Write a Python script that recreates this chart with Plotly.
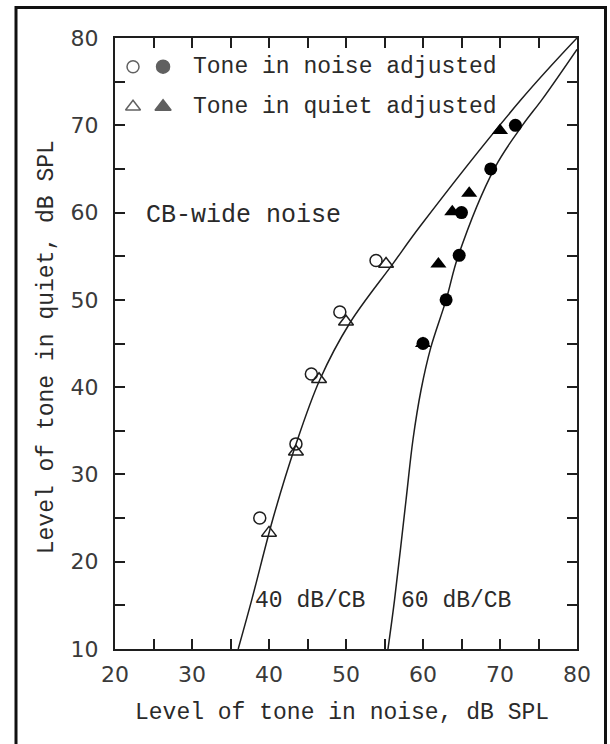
import plotly.graph_objects as go

# ---- data (dB SPL) ----
# 40 dB/CB masker, open symbols
noise_adj_40_x = [38.8, 43.5, 45.5, 49.2, 53.9]
noise_adj_40_y = [25.0, 33.5, 41.5, 48.6, 54.5]
quiet_adj_40_x = [40.0, 43.5, 46.5, 50.0, 55.2]
quiet_adj_40_y = [23.3, 32.6, 40.9, 47.5, 54.1]

# 60 dB/CB masker, filled symbols
noise_adj_60_x = [60.0, 63.0, 64.7, 65.0, 68.8, 72.0]
noise_adj_60_y = [45.0, 50.0, 55.1, 60.0, 65.0, 70.0]
quiet_adj_60_x = [60.0, 62.0, 63.8, 66.0, 70.0]
quiet_adj_60_y = [45.0, 54.1, 60.1, 62.2, 69.4]

# equal-loudness curves for the two masker levels
curve_40_x = [36.0, 37.75, 40.6, 43.4, 46.6, 50.5, 56.1, 59.6, 72.8, 80.0]
curve_40_y = [10.0, 15.6, 25.2, 33.2, 40.85, 47.35, 54.15, 58.4, 73.0, 80.0]
curve_60_x = [55.45, 56.3, 57.8, 58.7, 59.75, 61.0, 63.0, 64.6, 69.3, 73.0, 75.5, 80.0]
curve_60_y = [10.0, 15.6, 27.1, 34.0, 39.7, 44.5, 50.0, 55.1, 65.1, 70.1, 73.0, 78.7]

tick_vals = [20, 25, 30, 35, 40, 45, 50, 55, 60, 65, 70, 75, 80]
x_tick_text = ["20", "", "30", "", "40", "", "50", "", "60", "", "70", "", "80"]
y_tick_vals = [10, 15, 20, 25, 30, 35, 40, 45, 50, 55, 60, 65, 70, 75, 80]
y_tick_text = ["10", "", "20", "", "30", "", "40", "", "50", "", "60", "", "70", "", "80"]

legend_labels = ["Tone in noise adjusted", "Tone in quiet adjusted"]
curve_labels = ["40 dB/CB", "60 dB/CB"]
noise_label = "CB-wide noise"
x_title = "Level of tone in noise, dB SPL"
y_title = "Level of tone in quiet, dB SPL"

# ---- styling ----
INK = "#1e1e1e"
MONO = "Liberation Mono, DejaVu Sans Mono, monospace"
TICKFONT = dict(family="DejaVu Sans, sans-serif", size=22, color="#3a3a3a")
TEXTFONT = dict(family=MONO, size=23, color="#2a2a2a")
BIGFONT = dict(family=MONO, size=25, color="#2a2a2a")

W, H = 610, 744
ML, MR, MT, MB = 115, 33, 38, 95

fig = go.Figure()

line_style = dict(color=INK, width=1.5, shape="spline", smoothing=1.0)
fig.add_trace(go.Scatter(x=curve_40_x, y=curve_40_y, mode="lines", line=line_style,
                         hoverinfo="skip", showlegend=False))
fig.add_trace(go.Scatter(x=curve_60_x, y=curve_60_y, mode="lines", line=line_style,
                         hoverinfo="skip", showlegend=False))

open_circle = dict(symbol="circle-open", size=12, color=INK, line=dict(width=1.5, color=INK))
open_tri = dict(symbol="triangle-up-open", size=13, color=INK, line=dict(width=1.5, color=INK))
full_circle = dict(symbol="circle", size=13, color="black", line=dict(width=0))
full_tri = dict(symbol="triangle-up", size=14, color="black", line=dict(width=0))

fig.add_trace(go.Scatter(x=quiet_adj_40_x, y=quiet_adj_40_y, mode="markers", marker=open_tri,
                         name=legend_labels[1], showlegend=False))
fig.add_trace(go.Scatter(x=noise_adj_40_x, y=noise_adj_40_y, mode="markers", marker=open_circle,
                         name=legend_labels[0], showlegend=False))
fig.add_trace(go.Scatter(x=noise_adj_60_x, y=noise_adj_60_y, mode="markers", marker=full_circle,
                         name=legend_labels[0], showlegend=False))
fig.add_trace(go.Scatter(x=quiet_adj_60_x, y=quiet_adj_60_y, mode="markers", marker=full_tri,
                         name=legend_labels[1], showlegend=False))

# legend keys on an overlay axis spanning the plot area in 0..1 units
key_x_open, key_x_full = 0.039, 0.104
key_rows = [0.953, 0.8876]
fig.add_trace(go.Scatter(x=[key_x_open, key_x_full], y=[key_rows[0]] * 2, mode="markers",
                         marker=dict(symbol=["circle-open", "circle"], size=[12, 13], color=INK,
                                     line=dict(width=1.5, color=INK)),
                         xaxis="x2", yaxis="y2", hoverinfo="skip", showlegend=False))
fig.add_trace(go.Scatter(x=[key_x_open, key_x_full], y=[key_rows[1]] * 2, mode="markers",
                         marker=dict(symbol=["triangle-up-open", "triangle-up"], size=[13, 14], color=INK,
                                     line=dict(width=1.5, color=INK)),
                         xaxis="x2", yaxis="y2", hoverinfo="skip", showlegend=False))

annotations = []
for label, ry in zip(legend_labels, key_rows):
    annotations.append(dict(x=0.1636, y=ry, xref="paper", yref="paper", text=label,
                            showarrow=False, xanchor="left", yanchor="middle", font=TEXTFONT))
annotations.append(dict(x=0.0628, y=0.710, xref="paper", yref="paper", text=noise_label,
                        showarrow=False, xanchor="left", yanchor="middle", font=BIGFONT))
for label, lx in zip(curve_labels, [37.9, 56.9]):
    annotations.append(dict(x=lx, y=15.5, xref="x", yref="y", text=label, showarrow=False,
                            xanchor="left", yanchor="middle", font=TEXTFONT))
annotations.append(dict(x=0.491, y=-0.105, xref="paper", yref="paper", text=x_title,
                        showarrow=False, xanchor="center", yanchor="middle", font=TEXTFONT))
annotations.append(dict(x=-0.147, y=0.494, xref="paper", yref="paper", text=y_title,
                        showarrow=False, xanchor="center", yanchor="middle", textangle=-90,
                        font=TEXTFONT))

axis_common = dict(ticks="inside", ticklen=10, tickwidth=1.5, tickcolor=INK,
                   showline=True, linecolor=INK, linewidth=2, mirror="ticks",
                   showgrid=False, zeroline=False, tickfont=TICKFONT)

fig.update_layout(
    width=W, height=H,
    margin=dict(l=ML, r=MR, t=MT, b=MB),
    paper_bgcolor="white", plot_bgcolor="white",
    xaxis=dict(range=[20, 80], tickmode="array", tickvals=tick_vals, ticktext=x_tick_text,
               ticklabelstandoff=5, **axis_common),
    yaxis=dict(range=[10, 80], tickmode="array", tickvals=y_tick_vals, ticktext=y_tick_text,
               ticklabelstandoff=10, **axis_common),
    xaxis2=dict(range=[0, 1], overlaying="x", visible=False, fixedrange=True),
    yaxis2=dict(range=[0, 1], overlaying="y", visible=False, fixedrange=True),
    annotations=annotations,
    shapes=[dict(type="rect", xref="paper", yref="paper",
                 x0=(16 - ML) / (W - ML - MR), x1=(605.5 - ML) / (W - ML - MR),
                 y0=-0.2, y1=(H - MB - 7.5) / (H - MB - MT),
                 line=dict(color="#111111", width=3), fillcolor="rgba(0,0,0,0)")],
    showlegend=False,
)

fig.write_html("out.html")
